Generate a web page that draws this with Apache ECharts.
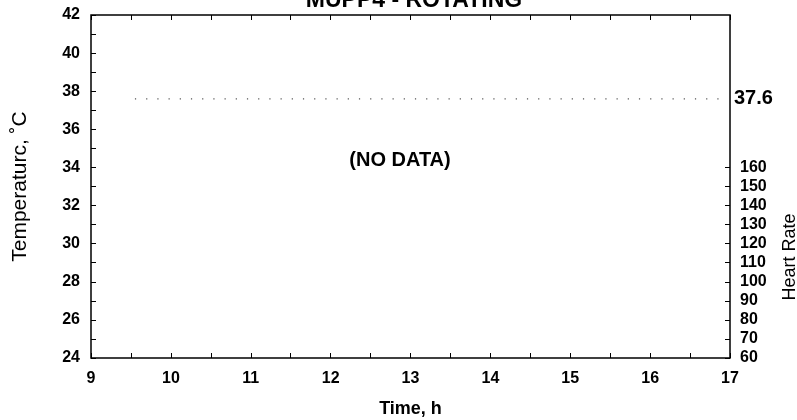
<!DOCTYPE html>
<html><head><meta charset="utf-8">
<script src="https://cdn.jsdelivr.net/npm/echarts@6/dist/echarts.min.js"></script>
<style>html,body{margin:0;padding:0;background:#fff}#c{width:797px;height:420px}</style>
</head><body><div id="c"></div>
<script>
// Data
var titleText = 'MUPP4 - ROTATING';
var timeRange = [9, 17];
var tempRange = [24, 42];
var heartRange = [60, 240];
var timeLabels = [9, 10, 11, 12, 13, 14, 15, 16, 17];
var timeTicks = [9, 9.5, 10, 10.5, 11, 11.5, 12, 12.5, 13, 13.5, 14, 14.5, 15, 15.5, 16, 16.5, 17];
var tempLabels = [24, 26, 28, 30, 32, 34, 36, 38, 40, 42];
var tempTicks = [24, 25, 26, 27, 28, 29, 30, 31, 32, 33, 34, 35, 36, 37, 38, 39, 40, 41, 42];
var heartLabels = [60, 70, 80, 90, 100, 110, 120, 130, 140, 150, 160];
var refTime = [9.55, 16.9];
var refTemp = [37.6, 37.6];
var refLabel = [37.6];

var FONT = '"Liberation Sans", Arial, sans-serif';
var chart = echarts.init(document.getElementById('c'));
var lblStyle = {color: '#000', fontFamily: FONT, fontWeight: 'bold', fontSize: 16};
chart.setOption({
  animation: false,
  backgroundColor: '#fff',
  grid: {left: 91, right: 67, top: 15, bottom: 62, show: true, borderColor: '#000', borderWidth: 1.5,
    backgroundColor: 'transparent', containLabel: false, outerBoundsMode: 'none'},
  xAxis: [{
    type: 'value', min: timeRange[0], max: timeRange[1], position: 'bottom',
    axisLine: {show: false}, splitLine: {show: false},
    axisTick: {show: true, inside: true, length: 5, lineStyle: {color: '#000', width: 1}, customValues: timeTicks},
    axisLabel: Object.assign({margin: 13, customValues: timeLabels}, lblStyle),
    name: 'Time, h', nameLocation: 'middle', nameGap: 42,
    nameTextStyle: {color: '#000', fontFamily: FONT, fontSize: 18, fontWeight: 'bold'}
  }, {
    type: 'value', min: timeRange[0], max: timeRange[1], position: 'top',
    axisLine: {show: false}, splitLine: {show: false},
    axisTick: {show: true, inside: true, length: 5, lineStyle: {color: '#000', width: 1}, customValues: timeTicks},
    axisLabel: {show: false}
  }],
  yAxis: [{
    type: 'value', min: tempRange[0], max: tempRange[1], position: 'left',
    axisLine: {show: false}, splitLine: {show: false},
    axisTick: {show: true, inside: true, length: 5, lineStyle: {color: '#000', width: 1}, customValues: tempTicks},
    axisLabel: Object.assign({margin: 11, customValues: tempLabels}, lblStyle),
    name: 'Temperaturc, \u02daC', nameLocation: 'middle', nameGap: 60, nameRotate: 90,
    nameTextStyle: {color: '#000', fontFamily: FONT, fontSize: 21}
  }, {
    type: 'value', min: heartRange[0], max: heartRange[1], position: 'right',
    axisLine: {show: false}, splitLine: {show: false},
    axisTick: {show: true, inside: true, length: 5, lineStyle: {color: '#000', width: 1}, customValues: heartLabels},
    axisLabel: Object.assign({margin: 10, customValues: heartLabels}, lblStyle)
  }, {
    type: 'value', min: tempRange[0], max: tempRange[1], position: 'right',
    axisLine: {show: false}, splitLine: {show: false}, axisTick: {show: false},
    axisLabel: {margin: 4, customValues: refLabel, color: '#000', fontFamily: FONT, fontWeight: 'bold', fontSize: 20,
      formatter: function (v) { return v.toFixed(1); }}
  }],
  series: [{
    type: 'line', xAxisIndex: 0, yAxisIndex: 0, symbol: 'none',
    data: refTime.map(function (t, i) { return [t, refTemp[i]]; }),
    lineStyle: {color: '#555', width: 1.2, type: [1.2, 10]}
  }],
  graphic: [
    {type: 'text', x: 414, y: 1, style: {text: titleText, textAlign: 'center', textVerticalAlign: 'middle', fill: '#000', font: 'bold 23px ' + FONT}},
    {type: 'text', x: 400, y: 160, style: {text: '(NO DATA)', textAlign: 'center', textVerticalAlign: 'middle', fill: '#000', font: 'bold 20px ' + FONT}},
    {type: 'text', x: 790, y: 257, rotation: Math.PI / 2, style: {text: 'Heart Rate', textAlign: 'center', textVerticalAlign: 'middle', fill: '#000', font: '18px ' + FONT}}
  ]
});
</script></body></html>
